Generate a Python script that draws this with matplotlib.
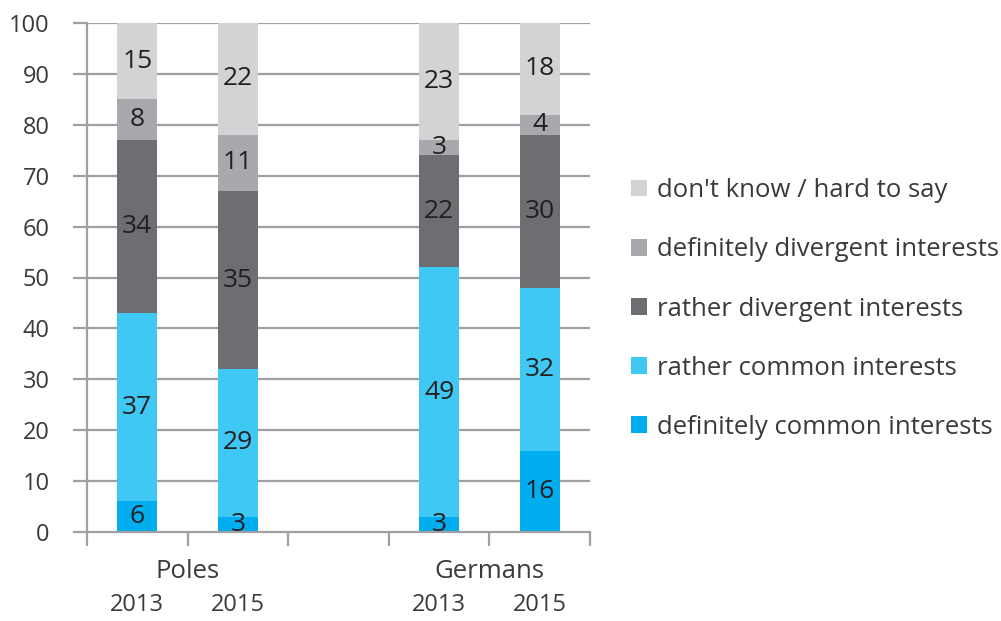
import matplotlib
matplotlib.use("Agg")
import matplotlib.pyplot as plt
from matplotlib.patches import Patch
import numpy as np

plt.rcParams['font.family'] = ['Open Sans', 'DejaVu Sans']

groups = ["Poles", "Germans"]
years = ["2013", "2015", "2013", "2015"]
series_names = ["definitely common interests", "rather common interests",
                "rather divergent interests", "definitely divergent interests",
                "don't know / hard to say"]
definitely_common = [6, 3, 3, 16]
rather_common = [37, 29, 49, 32]
rather_divergent = [34, 35, 22, 30]
definitely_divergent = [8, 11, 3, 4]
dont_know = [15, 22, 23, 18]
colors = ["#00AEEF", "#40C8F4", "#6D6E71", "#A7A9AC", "#D1D3D4"]

series = [definitely_common, rather_common, rather_divergent, definitely_divergent, dont_know]
xpos = np.array([0, 1, 3, 4])

fig = plt.figure(figsize=(10.01, 6.21), dpi=100)
ax = fig.add_axes([87/1001, 1-532/621, (590-87)/1001, (532-23)/621])

grid_c = "#A0A0A2"
txt_c = "#3A3A3C"
for v in range(10, 101, 10):
    ax.axhline(v, color=grid_c, lw=1.6, zorder=0)

bottom = np.zeros(4)
for vals, c in zip(series, colors):
    vals = np.array(vals, dtype=float)
    ax.bar(xpos, vals, bottom=bottom, width=0.4, color=c, zorder=2, linewidth=0)
    for x, b, v in zip(xpos, bottom, vals):
        ax.text(x, b + v/2, f"{int(v)}", ha="center", va="center",
                fontsize=19, color="#231F20", zorder=3)
    bottom += vals

ax.set_xlim(-0.5, 4.5)
ax.set_ylim(0, 100)
ax.set_yticks(range(0, 101, 10))
ax.tick_params(axis="y", length=10, width=1.6, color=grid_c, labelsize=17,
               labelcolor=txt_c, pad=17)
ax.set_xticks([-0.5, 0.5, 1.5, 2.5, 3.5, 4.5])
ax.set_xticklabels([])
ax.tick_params(axis="x", length=10, width=1.6, color=grid_c)
for s in ["top", "right"]:
    ax.spines[s].set_visible(False)
for s in ["left", "bottom"]:
    ax.spines[s].set_color(grid_c)
    ax.spines[s].set_linewidth(1.6)

for g, x in zip(groups, [0.5, 3.5]):
    ax.text(x, -7.8, g, ha="center", va="center", fontsize=18.5, color=txt_c,
            clip_on=False)
for y, x in zip(years, xpos):
    ax.text(x, -14.4, y, ha="center", va="center", fontsize=17, color=txt_c,
            clip_on=False)

handles = [Patch(facecolor=c, edgecolor="none") for c in colors][::-1]
labels = series_names[::-1]
fig.legend(handles, labels, loc="center left", bbox_to_anchor=(608/1001, 1-309/621),
           frameon=False, fontsize=18.5, handlelength=0.62, handleheight=0.62,
           handletextpad=0.4, labelspacing=1.33, labelcolor=txt_c)

fig.savefig("out.png", dpi=100)
